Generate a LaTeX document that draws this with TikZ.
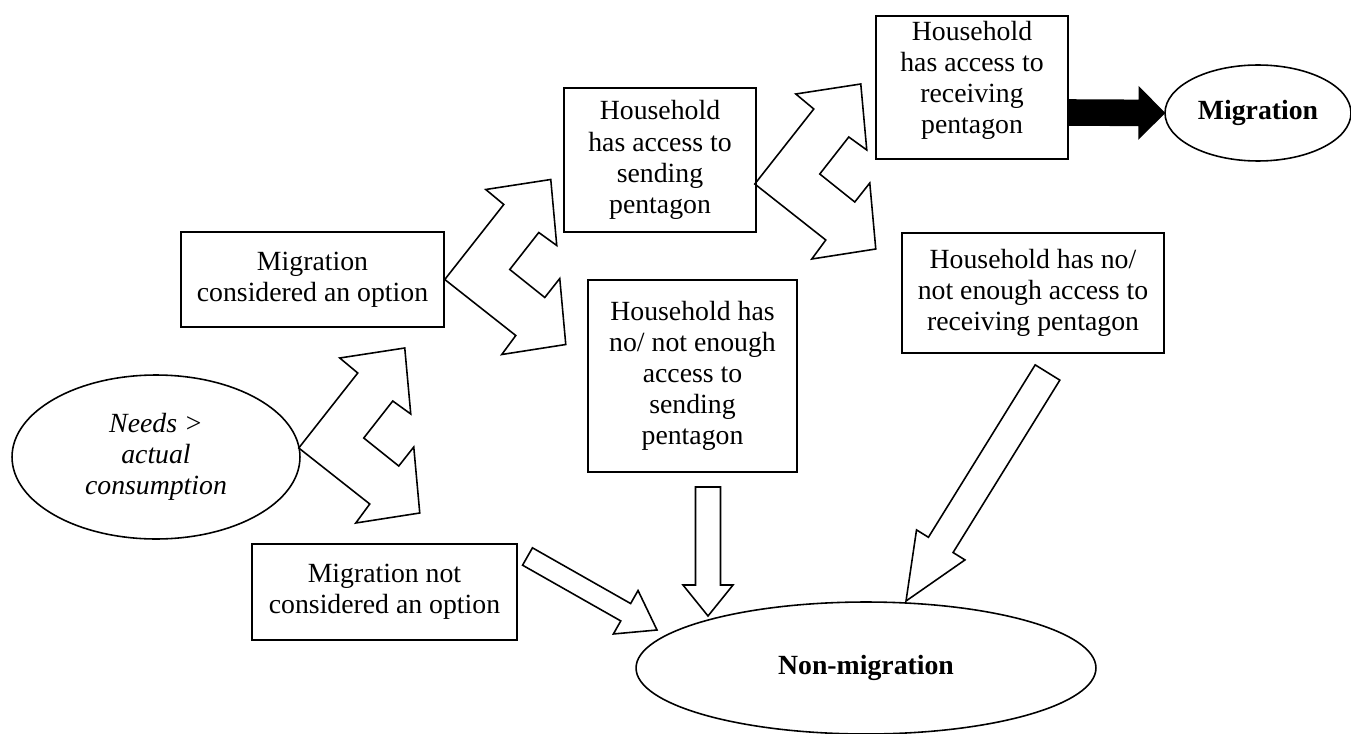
\documentclass[tikz,border=0pt]{standalone}
\usepackage{fontspec}
\setmainfont{Liberation Serif}
\usetikzlibrary{shapes.geometric,calc}

% block arrow: [opts]{from}{to}{shaft half width}{head half width}{head length}
\newcommand{\blockarrow}[6][]{%
  \coordinate (bh) at ($(#3)!#6!(#2)$);
  \draw[#1] ($(#2)!#4!90:(#3)$) -- ($(bh)!#4!-90:(#2)$) -- ($(bh)!#5!-90:(#2)$)
    -- (#3) -- ($(bh)!#5!90:(#2)$) -- ($(bh)!#4!90:(#2)$) -- ($(#2)!#4!-90:(#3)$) -- cycle;
}

\begin{document}
\begin{tikzpicture}[x=0.02cm,y=-0.02cm,line width=0.9pt,
    every node/.style={font=\fontsize{15.8}{17.7}\selectfont,align=center},
    box/.style={draw,rectangle,inner sep=0pt},
    oval/.style={draw,ellipse,inner sep=0pt},
    splitarrow/.pic={
      \draw (0,0) -- (59,-75) -- (41,-90) -- (106,-100) -- (112,-34) -- (94,-47)
        -- (65,-10) -- (100,18) -- (115,-1) -- (121,65) -- (57,75) -- (71,56) -- cycle;
    }]
  \useasboundingbox (0,0) rectangle (1351,733);

  % ovals
  \node[oval,minimum width=5.76cm,minimum height=3.28cm] (needs) at (156,457)
    {\itshape Needs >\\ \itshape actual\\ \itshape consumption};
  \node[oval,minimum width=3.72cm,minimum height=1.92cm] (migr) at (1258,113)
    {\bfseries Migration};
  \node[oval,minimum width=9.2cm,minimum height=2.64cm] (nonmig) at (866,668)
    {\bfseries Non-migration};

  % boxes
  \node[box,minimum width=5.26cm,minimum height=1.9cm] (cons) at (312.5,279.5)
    {Migration\\ considered an option};
  \node[box,minimum width=5.3cm,minimum height=1.92cm] (notcons) at (384.5,592)
    {Migration not\\ considered an option};
  \node[box,minimum width=3.84cm,minimum height=2.88cm] (send) at (660,160)
    {Household\\ has access to\\ sending\\ pentagon};
  \node[box,minimum width=4.18cm,minimum height=3.84cm] (nosend) at (692.5,376)
    {Household has\\ no/ not enough\\ access to\\ sending\\ pentagon};
  \node[box,minimum width=3.84cm,minimum height=2.86cm,
    label={[align=center,yshift=4pt]center:Household\\ has access to\\ receiving\\ pentagon}]
    (recv) at (972,87.5) {};
  \node[box,minimum width=5.24cm,minimum height=2.4cm] (norecv) at (1033,293)
    {Household has no/\\ not enough access to\\ receiving pentagon};

  % split arrows
  \pic at ($(needs.east)+(-2,-9)$) {splitarrow};
  \pic at (cons.east) {splitarrow};
  \pic at ($(send.east)+(-2,24)$) {splitarrow};

  % block arrows
  \coordinate (recvout) at ($(recv.east)+(0,25)$);
  \blockarrow[fill=black]{recvout}{migr.west}{0.25cm}{0.5cm}{0.5cm}
  \coordinate (nosendout) at (708,487);
  \coordinate (nosendin) at (708,616);
  \blockarrow{nosendout}{nosendin}{0.25cm}{0.5cm}{0.62cm}
  \coordinate (norecvout) at (1047.5,372.5);
  \coordinate (norecvin) at (906,601);
  \blockarrow{norecvout}{norecvin}{0.29cm}{0.57cm}{1.32cm}
  \coordinate (notconsout) at (527.5,556.5);
  \coordinate (notconsin) at (657,630);
  \blockarrow{notconsout}{notconsin}{0.2cm}{0.5cm}{0.72cm}
\end{tikzpicture}
\end{document}
